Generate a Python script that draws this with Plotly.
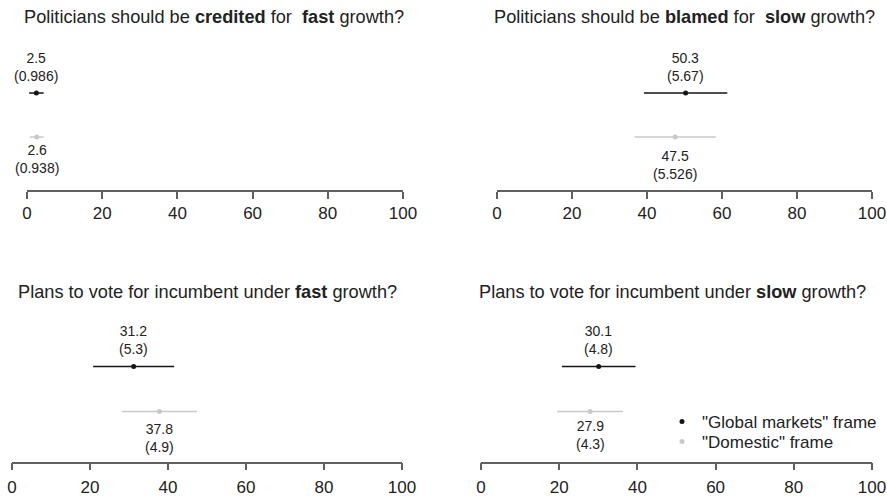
import plotly.graph_objects as go

# ---- data ----
titles = [
    "Politicians should be <b>credited</b> for &nbsp;<b>fast</b> growth?",
    "Politicians should be <b>blamed</b> for &nbsp;<b>slow</b> growth?",
    "Plans to vote for incumbent under <b>fast</b> growth?",
    "Plans to vote for incumbent under <b>slow</b> growth?",
]
global_means = [2.5, 50.3, 31.2, 30.1]
global_se = [0.986, 5.67, 5.3, 4.8]
domestic_means = [2.6, 47.5, 37.8, 27.9]
domestic_se = [0.938, 5.526, 4.9, 4.3]
tick_values = [0, 20, 40, 60, 80, 100]
series_names = ['"Global markets" frame', '"Domestic" frame']

# ---- layout / style ----
W, H = 887, 496
FONT = "Liberation Sans, Arial, sans-serif"
BLACK = "#151515"
GRAY = "#c9c9c9"
TEXT = "#222222"
AXIS = "#606060"
x_px = [(27, 403), (497, 872), (12, 402), (481, 872)]
row_px = [(40, 190), (40, 190), (312, 461.7), (312, 461.7)]
row_y = {"global": 2, "domestic": 1}
y_ranges = [(-0.2045, 3.205), (-0.2045, 3.205), (-0.118, 3.209), (-0.118, 3.209)]
title_pos = [(214, 17), (684, 17), (207, 292), (672, 292)]
dom_label_shift = [-3, -8.7, -7.7, -4.3]
tick_standoff = [0, 0, 2, 2]
legend_top_px = {"global": 404, "domestic": 424}

fig = go.Figure()
for i in range(4):
    xa = "x" if i == 0 else f"x{i+1}"
    ya = "y" if i == 0 else f"y{i+1}"
    for name, means, ses, col, key, lg in [
        (series_names[0], global_means, global_se, BLACK, "global", "legend"),
        (series_names[1], domestic_means, domestic_se, GRAY, "domestic", "legend2"),
    ]:
        fig.add_trace(go.Scatter(
            x=[means[i]], y=[row_y[key]], xaxis=xa, yaxis=ya,
            mode="markers", name=name, legendgroup=key, legend=lg,
            showlegend=(i == 3),
            marker=dict(color=col, size=5),
            error_x=dict(type="data", array=[1.96 * ses[i]], color=col,
                         thickness=1.5, width=0),
            hoverinfo="skip",
        ))
        if key == "global":
            fig.add_annotation(x=means[i], y=row_y[key], xref=xa, yref=ya,
                               text=f"{means[i]}<br>({ses[i]})", showarrow=False,
                               yanchor="bottom", yshift=7,
                               font=dict(family=FONT, size=14, color=TEXT))
        else:
            fig.add_annotation(x=means[i], y=row_y[key], xref=xa, yref=ya,
                               text=f"{means[i]}<br>({ses[i]})", showarrow=False,
                               yanchor="top", yshift=dom_label_shift[i],
                               font=dict(family=FONT, size=14, color=TEXT))
    # title
    fig.add_annotation(x=title_pos[i][0] / W, y=1 - title_pos[i][1] / H,
                       xref="paper", yref="paper", text=titles[i], showarrow=False,
                       xanchor="center", yanchor="middle",
                       font=dict(family=FONT, size=18.2, color=TEXT))
    xkey = "xaxis" if i == 0 else f"xaxis{i+1}"
    ykey = "yaxis" if i == 0 else f"yaxis{i+1}"
    fig.update_layout(**{
        xkey: dict(domain=[x_px[i][0] / W, x_px[i][1] / W], range=[0, 100],
                   anchor=ya, showgrid=False, zeroline=False,
                   showline=True, linecolor=AXIS, linewidth=1.5,
                   ticks="outside", ticklen=7, tickcolor=AXIS, tickwidth=1.5,
                   tickvals=tick_values, ticklabelstandoff=tick_standoff[i],
                   tickfont=dict(family=FONT, size=17, color=TEXT),
                   fixedrange=True, automargin=False),
        ykey: dict(domain=[1 - row_px[i][1] / H, 1 - row_px[i][0] / H],
                   range=list(y_ranges[i]), anchor=xa, visible=False,
                   fixedrange=True),
    })

leg_common = dict(x=662 / W, xanchor="left", yanchor="top",
                  bgcolor="rgba(0,0,0,0)", font=dict(family=FONT, size=17, color=TEXT),
                  tracegroupgap=0, itemwidth=30)
fig.update_layout(
    width=W, height=H, margin=dict(l=0, r=0, t=0, b=0, autoexpand=False),
    paper_bgcolor="white", plot_bgcolor="white",
    showlegend=True,
    legend=dict(y=1 - legend_top_px["global"] / H, **leg_common),
    legend2=dict(y=1 - legend_top_px["domestic"] / H, **leg_common),
)

fig.write_html("out.html", config={"displayModeBar": False},
               post_script="document.body.style.margin='0';")
